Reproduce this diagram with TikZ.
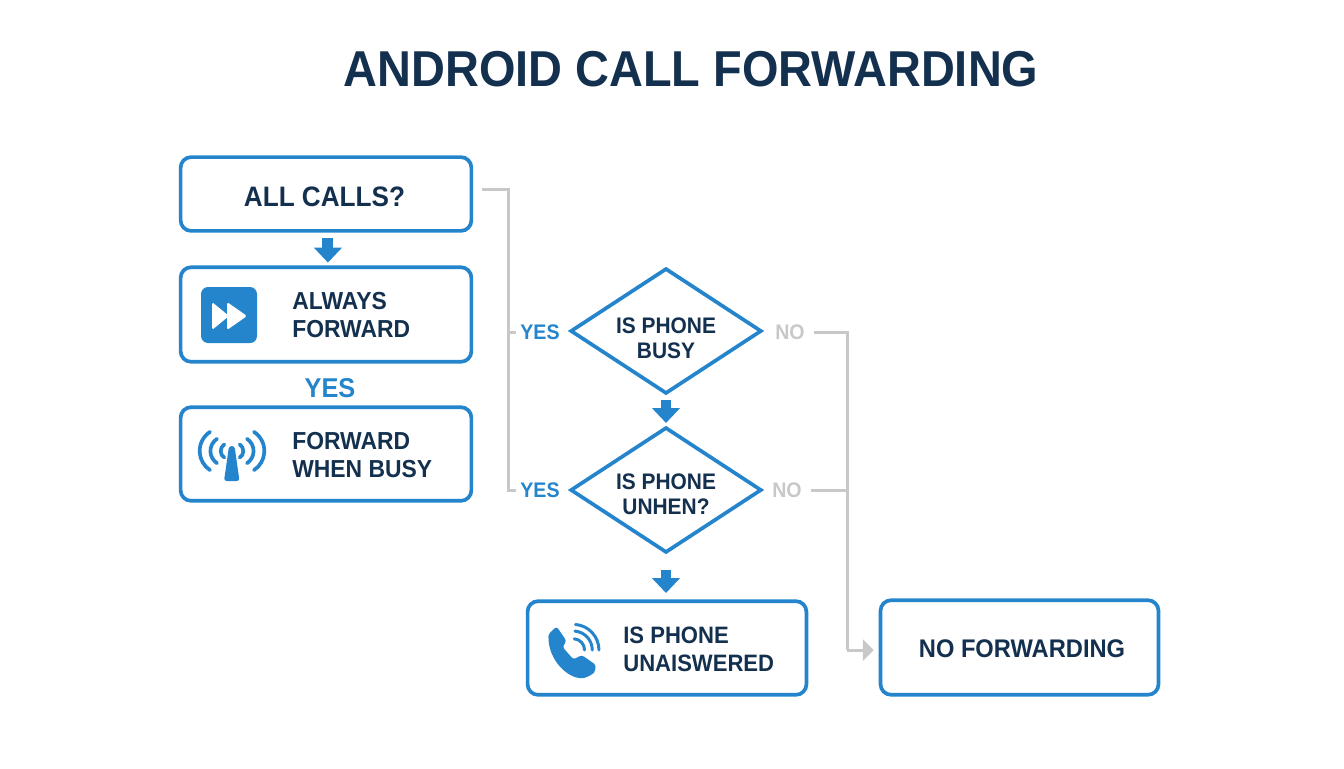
\documentclass[tikz,border=0pt]{standalone}
\usepackage{fontspec}
\setmainfont{Liberation Sans}[FakeStretch=0.93]
\usepackage{tikz}
\usetikzlibrary{arrows.meta, positioning, shapes.geometric}

\definecolor{navy}{HTML}{14304F}
\definecolor{callblue}{HTML}{2485CC}
\definecolor{wiregray}{HTML}{C8C8C8}

\tikzset{
    flowbox/.style={draw=callblue, line width=2.1pt, rounded corners=6pt, fill=white, inner sep=0pt},
    decision/.style={diamond, shape aspect=1.524, draw=callblue, line width=2.1pt, fill=white, inner sep=0pt,
        minimum width=108.8pt, minimum height=71.4pt},
    decisiontext/.style={font=\fontsize{12.8}{14.2}\selectfont\bfseries, text=navy, align=center, inner sep=0pt},
    boxtext/.style={font=\fontsize{14}{16}\selectfont\bfseries, text=navy, align=left, inner sep=0pt},
    yeslabel/.style={font=\fontsize{12}{14}\selectfont\bfseries, text=callblue, inner sep=2.3pt},
    nolabel/.style={font=\fontsize{12}{14}\selectfont\bfseries, text=wiregray, inner sep=2.3pt},
    wire/.style={draw=wiregray, line width=1.7pt},
    blockarrow/.style={draw=callblue, line width=6.2pt, -{Triangle[width=15.5pt,length=8.5pt]}},
    icon/.style={fill=callblue, draw=none},
    wave/.style={draw=callblue, line width=2.1pt, line cap=round}
}

\begin{document}
\begin{tikzpicture}[x=0.02cm, y=-0.02cm]
    \useasboundingbox (0,0) rectangle (1344,768);

    \node[font=\fontsize{28.7}{34}\selectfont\bfseries, text=navy] (title) at (691,69) {ANDROID CALL FORWARDING};

    % left column
    \node[flowbox, minimum width=165.5pt, minimum height=42pt] (allcalls) at (326,194) {};
    \node[boxtext, font=\fontsize{16}{18}\selectfont\bfseries] (allcallstext) at (324.5,197) {ALL CALLS?};
    \node[flowbox, minimum width=165.5pt, minimum height=53.8pt] (always) at (326,314.5) {};
    \node[boxtext, anchor=west] (alwaystext) at (292,315) {ALWAYS\\FORWARD};
    \node[font=\fontsize{15.5}{18}\selectfont\bfseries, text=callblue, inner sep=0pt] (yesmid) at (330,388) {YES};
    \node[flowbox, minimum width=165.5pt, minimum height=53.3pt] (whenbusy) at (326,454) {};
    \node[boxtext, anchor=west] (whenbusytext) at (292,455) {FORWARD\\WHEN BUSY};

    % decisions
    \node[decision] (isbusy) at (666,331) {};
    \node[decisiontext] (isbusytext) at (666,338) {IS PHONE\\BUSY};
    \node[decision] (isunhen) at (666,490) {};
    \node[decisiontext] (isunhentext) at (666,494) {IS PHONE\\UNHEN?};
    \node[yeslabel] (yesbusy) at (540,332) {YES};
    \node[yeslabel] (yesunhen) at (540,490) {YES};
    \node[nolabel] (nobusy) at (790,332) {NO};
    \node[nolabel] (nounhen) at (787,490) {NO};

    % result boxes
    \node[flowbox, minimum width=158.7pt, minimum height=53.3pt] (unanswered) at (667,648) {};
    \node[boxtext, font=\fontsize{13.5}{16}\selectfont\bfseries, anchor=west] (unansweredtext) at (623,649) {IS PHONE\\UNAISWERED};
    \node[flowbox, minimum width=158.2pt, minimum height=53.8pt] (noforward) at (1019.5,647.5) {};
    \node[boxtext, font=\fontsize{14.5}{16}\selectfont\bfseries] (noforwardtext) at (1022,649) {NO FORWARDING};

    % blue arrows
    \draw[blockarrow, shorten <=3.2pt, shorten >=1.6pt] ([xshift=1.1pt]allcalls.south) -- ([xshift=1.1pt]always.north);
    \draw[blockarrow, shorten <=2.6pt, shorten >=1.4pt] (isbusy.south) -- (isunhen.north);
    \draw[blockarrow, shorten <=8.8pt, shorten >=3.6pt] (isunhen.south) -- (unanswered.north -| isunhen.south);

    % gray connectors
    \coordinate (yesjoin) at (508,332);
    \coordinate (yesfoot) at (508,490);
    \coordinate (nojoin) at (847,490);
    \coordinate (nofoot) at (847,650);
    \draw[wire, shorten <=5pt] ([yshift=2.8pt]allcalls.east) -| (yesfoot) -- (yesunhen.west);
    \draw[wire] (yesjoin) -- (yesbusy.west);
    \draw[wire, shorten <=2.5pt] (nobusy.east) -| (nofoot);
    \draw[wire, shorten <=2.5pt] (nounhen.east) -- (nojoin);
    \draw[wire, shorten >=2.8pt, -{Triangle[width=12pt,length=6.2pt]}] (nofoot) -- (noforward.west |- nofoot);

    % fast forward icon
    \fill[callblue, rounded corners=4pt] (201,287) rectangle (257,343);
    \fill[white, rounded corners=1pt] (212,302) -- (229,316) -- (212,330) -- cycle;
    \fill[white, rounded corners=1pt] (227,302) -- (247,316) -- (227,330) -- cycle;

    % antenna icon
    \fill[icon, rounded corners=1.5pt] (229,446) -- (234.5,446) -- (239.5,481) -- (224,481) -- cycle;
    \foreach \r/\dx in {4.5/3.4, 8.3/7, 13/9.5} {
        \draw[wave] ({232+\dx},451) ++(57:\r pt) arc[start angle=57, end angle=-57, radius=\r pt];
        \draw[wave] ({232-\dx},451) ++(123:\r pt) arc[start angle=123, end angle=237, radius=\r pt];
    }

    % phone icon
    \fill[icon, rounded corners=1.5pt] (556.7,626.5) -- (566.5,641) -- (562.5,647) -- (573.5,659.5)
        -- (581.7,655) -- (596,665) -- (594.5,673) -- (585,678)
        .. controls (568,679) and (548,660) .. (548.5,634) -- cycle;
    \foreach \r in {6.4,10.8,14.6} {
        \draw[wave, line width=1.7pt] (573.3,650) ++(85:\r pt) arc[start angle=85, end angle=0, radius=\r pt];
    }
\end{tikzpicture}
\end{document}
